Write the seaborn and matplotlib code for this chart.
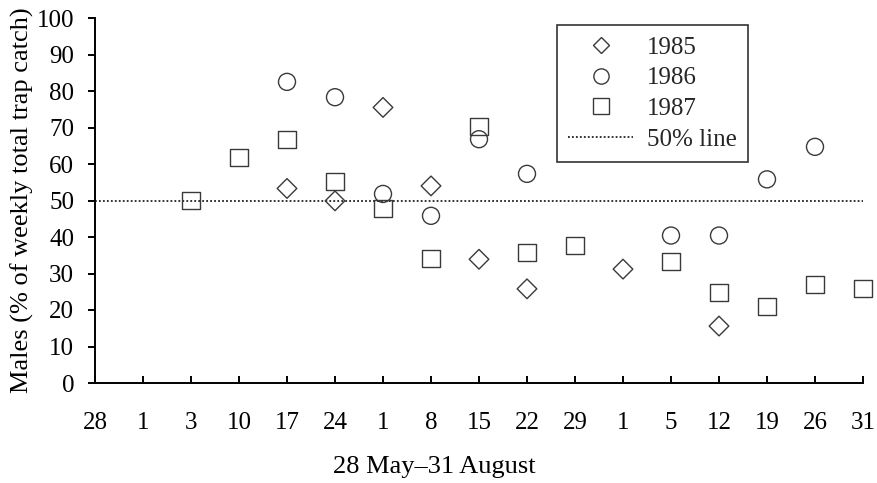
import matplotlib
matplotlib.use("Agg")
import matplotlib.pyplot as plt
import seaborn as sns
import pandas as pd
from matplotlib.lines import Line2D

# ---- data ----
tick_labels = ["28", "1", "3", "10", "17", "24", "1", "8", "15", "22", "29",
               "1", "5", "12", "19", "26", "31"]

x_1985 = [4, 5, 6, 7, 8, 9, 11, 13]
y_1985 = [53.3, 49.9, 75.5, 54.0, 33.9, 25.8, 31.2, 15.6]

x_1986 = [4, 5, 6, 7, 8, 9, 12, 13, 14, 15]
y_1986 = [82.5, 78.3, 51.8, 45.8, 66.8, 57.3, 40.4, 40.4, 55.8, 64.7]

x_1987 = [2, 3, 4, 5, 6, 7, 8, 9, 10, 12, 13, 14, 15, 16]
y_1987 = [50.1, 61.8, 66.6, 55.3, 47.9, 34.0, 70.2, 35.8, 37.8, 33.2, 24.8, 20.9, 27.0, 25.9]

ref_line = 50

sns.set_theme(style="ticks")
plt.rcParams["font.family"] = ["Liberation Serif", "DejaVu Serif"]

fig = plt.figure(figsize=(8.77, 4.83), dpi=100)
ax = fig.add_axes([95/877, 1-383/483, 768/877, 365/483])

edge = "#3a3a3a"
FS = 18
LFS = 19
series = [
    ("1985", x_1985, y_1985, "D", 100),
    ("1986", x_1986, y_1986, "o", 150),
    ("1987", x_1987, y_1987, "s", 150),
]
for name, xs, ys, mk, s in series:
    df = pd.DataFrame({"x": xs, "y": ys})
    sns.scatterplot(data=df, x="x", y="y", marker=mk, s=s, facecolor="none",
                    edgecolor=edge, linewidth=1.0, clip_on=False, ax=ax,
                    zorder=3, legend=False)

ax.hlines(ref_line, 0, len(tick_labels)-1, colors="#222222", linestyles=(0, (1, 1.2)),
          linewidth=1.3, zorder=2)

ax.set_xlim(0, len(tick_labels)-1)
ax.set_ylim(0, 100)
ax.set_xticks(range(len(tick_labels)))
ax.set_xticklabels(tick_labels)
ax.set_yticks(range(0, 101, 10))

for sp in ["top", "right"]:
    ax.spines[sp].set_visible(False)
for sp in ["left", "bottom"]:
    ax.spines[sp].set_linewidth(1.4)
    ax.spines[sp].set_color("black")

ax.tick_params(axis="x", direction="in", length=5, width=1.4, pad=21,
               labelsize=FS, colors="black")
ax.tick_params(axis="y", direction="out", length=5, width=1.4, pad=10,
               labelsize=FS, colors="black")

ax.set_xlabel("28 May\u201331 August", fontsize=LFS, color="black")
ax.set_ylabel("Males (% of weekly total trap catch)", fontsize=LFS, color="black")
ax.xaxis.set_label_coords(0.442, -0.2)
ax.yaxis.set_label_coords(-0.079, 0.5)

handles = [
    Line2D([], [], linestyle="none", marker="D", markersize=8.5, markerfacecolor="none",
           markeredgecolor=edge, markeredgewidth=1.0),
    Line2D([], [], linestyle="none", marker="o", markersize=11, markerfacecolor="none",
           markeredgecolor=edge, markeredgewidth=1.0),
    Line2D([], [], linestyle="none", marker="s", markersize=11, markerfacecolor="none",
           markeredgecolor=edge, markeredgewidth=1.0),
    Line2D([], [], linestyle=(0, (1, 1.2)), color="#222222", linewidth=1.3),
]
leg = ax.legend(handles, ["1985", "1986", "1987", "50% line"], loc="upper left",
                bbox_to_anchor=(0.6016, 0.981), fontsize=FS, frameon=True,
                fancybox=False, edgecolor="#333333", framealpha=1,
                labelspacing=0.33, handlelength=2.6, handletextpad=0.56,
                borderpad=0.45, borderaxespad=0)
leg.get_frame().set_linewidth(1.2)

fig.savefig("out.png", dpi=100)
